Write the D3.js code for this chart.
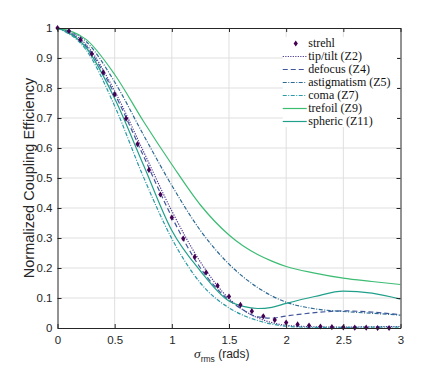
<!DOCTYPE html>
<html>
<head>
<meta charset="utf-8">
<script src="https://cdn.jsdelivr.net/npm/d3@7"></script>
<style>
  body { margin: 0; background: #fff; }
  .axis path, .axis line { stroke: #262626; }
  .axis text { font-family: "Liberation Sans", Arial, sans-serif; font-size: 11.5px; fill: #262626; }
  .grid line { stroke: #dfdfdf; stroke-width: 1; }
  .legend text { font-family: "Liberation Serif", "DejaVu Serif", serif; font-size: 12px; fill: #111; }
</style>
</head>
<body>
<div id="chart"></div>
<script>
// Data
var sigma = [0, 0.25, 0.5, 0.75, 1, 1.25, 1.5, 1.625, 1.75, 1.875, 2, 2.25, 2.5, 2.75, 3];
var tipTilt = [1, 0.945, 0.79, 0.59, 0.39, 0.22, 0.098, 0.06, 0.034, 0.018, 0.009, 0.004, 0.003, 0.004, 0.005];
var defocus = [1, 0.94, 0.78, 0.575, 0.37, 0.2, 0.093, 0.06, 0.037, 0.033, 0.04, 0.051, 0.057, 0.053, 0.044];
var astigmatism = [1, 0.955, 0.82, 0.645, 0.475, 0.325, 0.213, 0.17, 0.135, 0.107, 0.086, 0.064, 0.055, 0.049, 0.043];
var coma = [1, 0.927, 0.74, 0.505, 0.298, 0.15, 0.067, 0.042, 0.025, 0.013, 0.006, 0.002, 0.002, 0.003, 0.003];
var trefoil = [1, 0.962, 0.845, 0.69, 0.545, 0.41, 0.31, 0.273, 0.245, 0.223, 0.205, 0.183, 0.166, 0.155, 0.145];
var spheric = [1, 0.935, 0.765, 0.545, 0.325, 0.19, 0.09, 0.072, 0.065, 0.069, 0.082, 0.105, 0.123, 0.116, 0.096];

var strehlSigma = [0, 0.1, 0.2, 0.3, 0.4, 0.5, 0.6, 0.7, 0.8, 0.9, 1, 1.1, 1.2, 1.3, 1.4,
  1.5, 1.6, 1.7, 1.8, 1.9, 2, 2.1, 2.2, 2.3, 2.4, 2.5, 2.6, 2.7, 2.8, 2.9];
var strehl = [1, 0.99, 0.961, 0.914, 0.852, 0.779, 0.698, 0.613, 0.527, 0.445, 0.368, 0.298,
  0.237, 0.185, 0.141, 0.105, 0.077, 0.056, 0.039, 0.027, 0.018, 0.012, 0.008, 0.005, 0.003,
  0.002, 0.001, 0.001, 0, 0];

var xTicks = [0, 0.5, 1, 1.5, 2, 2.5, 3];
var yTicks = [0, 0.1, 0.2, 0.3, 0.4, 0.5, 0.6, 0.7, 0.8, 0.9, 1];

var series = [
  { name: "tip/tilt (Z2)", values: tipTilt, color: "#4e3a8f", dash: "1.2,1.3" },
  { name: "defocus (Z4)", values: defocus, color: "#41569a", dash: "5,3" },
  { name: "astigmatism (Z5)", values: astigmatism, color: "#2c6a94", dash: "4,1.5,1,1.5" },
  { name: "coma (Z7)", values: coma, color: "#2a9aa6", dash: "4,1.5,1,1.5" },
  { name: "trefoil (Z9)", values: trefoil, color: "#3dbc74", dash: null },
  { name: "spheric (Z11)", values: spheric, color: "#20a08a", dash: null }
];

var margins = { top: 28, right: 42.5, bottom: 43, left: 57.5 };
var width = 443, height = 371;
var chartWidth = width - margins.left - margins.right;
var chartHeight = height - margins.top - margins.bottom;

var svg = d3.select("#chart").append("svg")
  .attr("width", width)
  .attr("height", height);

var chart = svg.append("g")
  .attr("transform", "translate(" + margins.left + "," + margins.top + ")");

var xScale = d3.scaleLinear().domain([0, 3]).range([0, chartWidth]);
var yScale = d3.scaleLinear().domain([0, 1]).range([chartHeight, 0]);

// grid
chart.append("g").attr("class", "grid")
  .selectAll("line.v").data(xTicks.slice(1, -1)).enter().append("line")
  .attr("x1", d => xScale(d)).attr("x2", d => xScale(d))
  .attr("y1", 0).attr("y2", chartHeight);
chart.append("g").attr("class", "grid")
  .selectAll("line.h").data(yTicks.slice(1, -1)).enter().append("line")
  .attr("y1", d => yScale(d)).attr("y2", d => yScale(d))
  .attr("x1", 0).attr("x2", chartWidth);

svg.append("defs").append("clipPath").attr("id", "clip")
  .append("rect").attr("width", chartWidth).attr("height", chartHeight + 1).attr("y", -1);

var line = d3.line()
  .x(d => xScale(d[0]))
  .y(d => yScale(d[1]))
  .curve(d3.curveMonotoneX);

var curves = chart.append("g").attr("clip-path", "url(#clip)");
series.forEach(function(s) {
  curves.append("path")
    .datum(sigma.map((x, i) => [x, s.values[i]]))
    .attr("d", line)
    .attr("fill", "none")
    .attr("stroke", s.color)
    .attr("stroke-width", 1.2)
    .attr("stroke-dasharray", s.dash);
});

var diamond = d3.symbol().type(d3.symbolDiamond).size(11);
chart.append("g").selectAll("path")
  .data(strehlSigma.map((x, i) => [x, strehl[i]]))
  .enter().append("path")
  .attr("d", diamond)
  .attr("fill", "#440154")
  .attr("transform", d => "translate(" + xScale(d[0]) + "," + yScale(d[1]) + ") scale(1.2,1)");

// axes (ticks pointing inward)
var fmt = d => d3.format("~g")(d);
chart.append("g").attr("class", "axis")
  .attr("transform", "translate(0," + chartHeight + ")")
  .call(d3.axisBottom(xScale).tickValues(xTicks).tickFormat(fmt).tickSize(-4).tickSizeOuter(0).tickPadding(8));
chart.append("g").attr("class", "axis")
  .call(d3.axisLeft(yScale).tickValues(yTicks).tickFormat(fmt).tickSize(-4).tickSizeOuter(0).tickPadding(5));
chart.append("g").attr("class", "axis")
  .call(d3.axisTop(xScale).tickValues(xTicks).tickFormat("").tickSize(-4).tickSizeOuter(0));
chart.append("g").attr("class", "axis")
  .attr("transform", "translate(" + chartWidth + ",0)")
  .call(d3.axisRight(yScale).tickValues(yTicks).tickFormat("").tickSize(-4).tickSizeOuter(0));

// legend
var legend = chart.append("g").attr("class", "legend")
  .attr("transform", "translate(" + xScale(1.97) + "," + yScale(0.97) + ")");
legend.append("rect")
  .attr("width", xScale(2.97) - xScale(1.97))
  .attr("height", yScale(0.67) - yScale(0.97))
  .attr("fill", "#fff");

var rowH = 13;
var entries = [{ name: "strehl", marker: true }].concat(series);
var rows = legend.selectAll("g.row").data(entries).enter().append("g")
  .attr("transform", (d, i) => "translate(0," + (6.5 + i * rowH) + ")");
rows.filter(d => !d.marker).append("line")
  .attr("x1", 0).attr("x2", 24)
  .attr("stroke", d => d.color)
  .attr("stroke-width", 1.2)
  .attr("stroke-dasharray", d => d.dash);
rows.filter(d => d.marker).append("path")
  .attr("d", diamond)
  .attr("fill", "#440154")
  .attr("transform", "translate(13,0) scale(1.2,1)");
rows.append("text")
  .attr("x", 25.5)
  .attr("dy", "0.33em")
  .text(d => d.name);

// axis labels
svg.append("text")
  .attr("transform", "translate(34," + (margins.top + chartHeight / 2) + ") rotate(-90)")
  .attr("text-anchor", "middle")
  .style("font-family", "Liberation Sans, Arial, sans-serif")
  .style("font-size", "14.5px")
  .style("fill", "#262626")
  .text("Normalized Coupling Efficiency");

var xl = svg.append("text")
  .attr("x", 194)
  .attr("y", 358)
  .style("fill", "#262626")
  .style("font-family", "Liberation Sans, Arial, sans-serif");
xl.append("tspan").text("σ")
  .style("font-family", "Liberation Serif, serif")
  .style("font-style", "italic")
  .style("font-size", "13.5px");
xl.append("tspan").text("rms").attr("dy", 4).style("font-size", "8.5px");
xl.append("tspan").text(" (rads)").attr("dy", -4).style("font-size", "12px");
</script>
</body>
</html>
